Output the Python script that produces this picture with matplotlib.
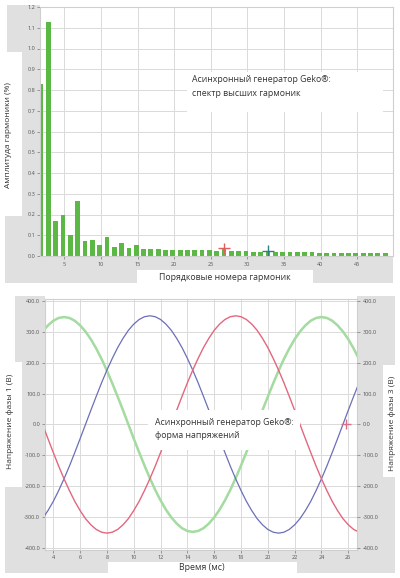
import matplotlib
matplotlib.use('Agg')
import matplotlib.pyplot as plt
from matplotlib.patches import Rectangle

plt.rcParams['font.family'] = ['Open Sans', 'DejaVu Sans']

# --- spectrum data (harmonic order -> amplitude, %) ---
harmonics = list(range(2, 50))
amplitude = [0.83, 1.13, 0.17, 0.20, 0.10, 0.265, 0.072, 0.077, 0.053, 0.093,
             0.045, 0.061, 0.040, 0.053, 0.035, 0.035, 0.032, 0.030, 0.030, 0.030,
             0.029, 0.027, 0.027, 0.028, 0.026, 0.035, 0.022, 0.022, 0.022, 0.021,
             0.019, 0.024, 0.019, 0.019, 0.018, 0.018, 0.018, 0.017, 0.016, 0.016,
             0.016, 0.015, 0.015, 0.015, 0.015, 0.015, 0.014, 0.014]
spec_cursor_h = [26.85, 32.85]
spec_cursor_v = [0.037, 0.024]
spec_cursor_c = ['#e06060', '#2f7f7f']
spec_xticks = [5, 10, 15, 20, 25, 30, 35, 40, 45]
spec_yticks = [0.0, 0.1, 0.2, 0.3, 0.4, 0.5, 0.6, 0.7, 0.8, 0.9, 1.0, 1.1, 1.2]

# --- voltage waveform data (ms -> V) ---
time_ms = [3.2, 3.6, 4.0, 4.4, 4.8, 5.2, 5.6, 6.0, 6.4, 6.8,
           7.2, 7.6, 8.0, 8.4, 8.8, 9.2, 9.6, 10.0, 10.4, 10.8,
           11.2, 11.6, 12.0, 12.4, 12.8, 13.2, 13.6, 14.0, 14.4, 14.8,
           15.2, 15.6, 16.0, 16.4, 16.8, 17.2, 17.6, 18.0, 18.4, 18.8,
           19.2, 19.6, 20.0, 20.4, 20.8, 21.2, 21.6, 22.0, 22.4, 22.8,
           23.2, 23.6, 24.0, 24.4, 24.8, 25.2, 25.6, 26.0, 26.4, 26.8, 27.2]
phase_blue = [-305, -279, -249, -214, -176, -135, -91, -46,
              0, 46, 91, 135, 176, 214, 249, 279, 305, 325, 340, 349, 352, 349,
              340, 325, 305, 279, 249, 214, 176, 135, 91, 46,
              0, -46, -91, -135, -176, -214, -249, -279, -305, -325, -340, -349,
              -352, -349, -340, -325, -305, -279, -249, -214, -176, -135, -91, -46,
              0, 46, 91, 135, 176]
phase_red = [0, -46, -91, -135, -176, -214, -249, -279, -305, -325, -340, -349,
             -352, -349, -340, -325, -305, -279, -249, -214, -176, -135, -91, -46,
             0, 46, 91, 135, 176, 214, 249, 279, 305, 325, 340, 349,
             352, 349, 340, 325, 305, 279, 249, 214, 176, 135, 91, 46,
             0, -46, -91, -135, -176, -214, -249, -279, -305, -325, -340, -349, -352]
phase_green = [301, 321, 336, 345, 348, 345, 336, 321, 301, 276, 246, 212, 174, 133, 90, 46,
               0, -46, -90, -133, -174, -212, -246, -276, -301, -321, -336, -345,
               -348, -345, -336, -321, -301, -276, -246, -212, -174, -133, -90, -46,
               0, 46, 90, 133, 174, 212, 246, 276, 301, 321, 336, 345,
               348, 345, 336, 321, 301, 276, 246, 212, 174]
wave_cursor_t = [25.8]
wave_cursor_v = [0]
wave_xticks = [4, 6, 8, 10, 12, 14, 16, 18, 20, 22, 24, 26]
wave_yticks = [-400, -300, -200, -100, 0, 100, 200, 300, 400]

W, H = 400, 578
GRAY = '#e0e0e0'
fig = plt.figure(figsize=(W / 100, H / 100), dpi=100)


def px_rect(x0, y0, x1, y1, color=GRAY, z=-10):
    fig.add_artist(Rectangle((x0 / W, 1 - y1 / H), (x1 - x0) / W, (y1 - y0) / H,
                             transform=fig.transFigure, facecolor=color,
                             edgecolor='none', zorder=z))


def px_text(x, y, s, **kw):
    fig.text(x / W, 1 - y / H, s, **kw)


def px_axes(x0, y0, x1, y1):
    return fig.add_axes([x0 / W, 1 - y1 / H, (x1 - x0) / W, (y1 - y0) / H])


def style(ax):
    ax.set_facecolor('white')
    for s in ax.spines.values():
        s.set_color('#cfcfcf')
        s.set_linewidth(0.8)
    ax.grid(True, color='#dadada', lw=0.7)
    ax.set_axisbelow(True)
    ax.tick_params(labelsize=4, colors='#777777', labelcolor='#555555',
                   length=2.5, width=0.5, pad=1)


# background panels, top chart
px_rect(7, 5, 40, 52)
px_rect(22, 52, 40, 216)
px_rect(5, 216, 40, 283)
px_rect(5, 256, 393, 283)
px_rect(137, 270, 313, 283, color='white', z=-5)

# background panels, bottom chart
px_rect(15, 296, 45, 362)
px_rect(22, 362, 45, 487)
px_rect(5, 487, 45, 573)
px_rect(5, 548, 395, 573)
px_rect(108, 562, 297, 578, color='white', z=-5)
px_rect(357, 296, 395, 365)
px_rect(357, 365, 383, 477)
px_rect(357, 477, 395, 573)

# --- spectrum ---
ax1 = px_axes(40, 7, 393, 256)
style(ax1)
ax1.bar([h - 0.5 for h in harmonics], amplitude, width=0.65, align='edge',
        color='#5cb844', edgecolor='none', zorder=2)
ax1.scatter(spec_cursor_h, spec_cursor_v, marker='+', s=70, c=spec_cursor_c,
            linewidths=1.0, zorder=3)
ax1.set_xlim(1.68, 49.9)
ax1.set_ylim(0, 1.2)
ax1.set_xticks(spec_xticks)
ax1.set_yticks(spec_yticks)
ax1.set_yticklabels(['%.1f' % v for v in spec_yticks])
ax1.set_xticklabels([str(v) for v in spec_xticks])
ax1.tick_params(axis='x', length=2, pad=2)

px_rect(187, 72, 383, 112, color='white', z=2)
px_text(192, 75, 'Асинхронный генератор Geko®:\nспектр высших гармоник',
        fontsize=6.3, color='#333333', va='top', ha='left', linespacing=1.7, zorder=3)
px_text(9, 135, 'Амплитуда гармоники (%)', fontsize=6, rotation=90,
        ha='center', va='center', color='#333333')
px_text(225, 277, 'Порядковые номера гармоник', fontsize=6.3,
        ha='center', va='center', color='#333333')

# --- waveform ---
ax2 = px_axes(45, 298.5, 357, 549.5)
style(ax2)
ax2.plot(time_ms, phase_green, color='#a3dba0', lw=1.8, zorder=2)
ax2.plot(time_ms, phase_blue, color='#6b6fb8', lw=0.9, zorder=3)
ax2.plot(time_ms, phase_red, color='#e2677f', lw=1.0, zorder=3)
ax2.scatter(wave_cursor_t, wave_cursor_v, marker='+', s=60, c='#d9708a',
            linewidths=1.0, zorder=4)
ax2.set_xlim(3.38, 26.65)
ax2.set_ylim(-405, 408)
ax2.set_xticks(wave_xticks)
ax2.set_xticklabels([str(v) for v in wave_xticks])
ax2.set_yticks(wave_yticks)
ax2.set_yticklabels(['%.1f' % v for v in wave_yticks])
ax2.tick_params(axis='x', length=2, pad=2)
ax2r = ax2.twinx()
ax2r.set_ylim(ax2.get_ylim())
ax2r.set_yticks(wave_yticks)
ax2r.set_yticklabels(['%.1f' % v for v in wave_yticks])
ax2r.tick_params(labelsize=4, colors='#777777', labelcolor='#555555',
                 length=2.5, width=0.5, pad=1.5)
for s in ax2r.spines.values():
    s.set_visible(False)

px_rect(148, 410, 300, 450, color='white', z=2)
px_text(155, 418, 'Асинхронный генератор Geko®:\nформа напряжений',
        fontsize=6.3, color='#333333', va='top', ha='left', linespacing=1.6, zorder=3)
px_text(10, 421, 'Напряжение фазы 1 (В)', fontsize=6, rotation=90,
        ha='center', va='center', color='#333333')
px_text(392, 423, 'Напряжение фазы 3 (В)', fontsize=6, rotation=90,
        ha='center', va='center', color='#333333')
px_text(202, 568, 'Время (мс)', fontsize=6.3, ha='center', va='center', color='#333333')

fig.savefig('out.png', dpi=100, facecolor='white')
